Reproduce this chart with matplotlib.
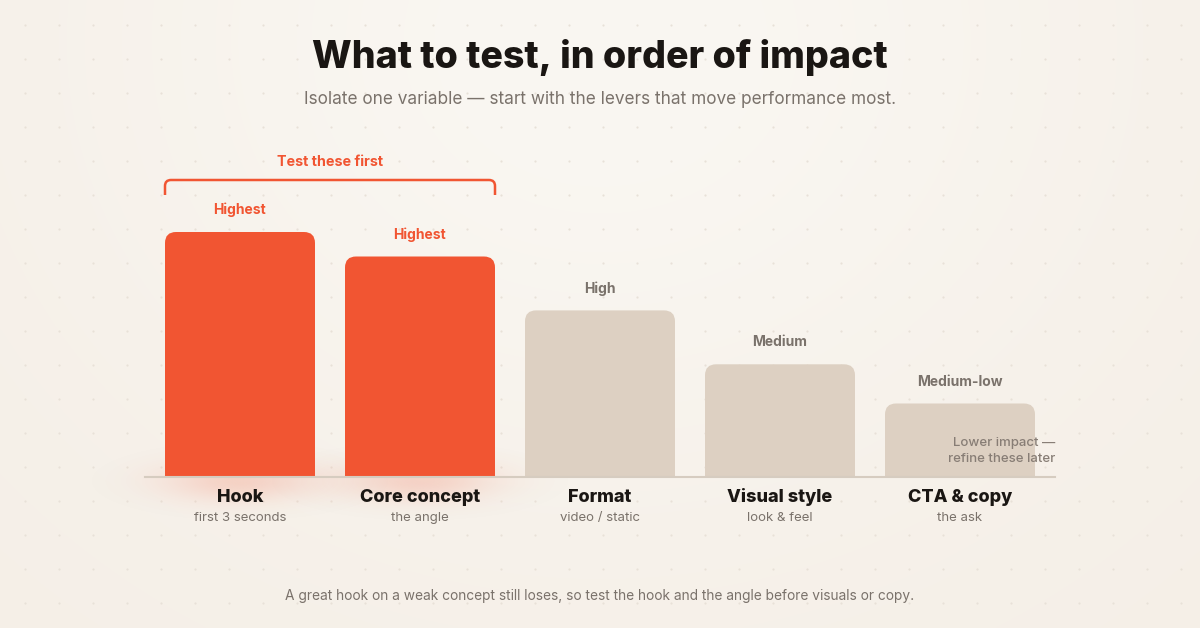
import numpy as np
import matplotlib.pyplot as plt
from matplotlib.patches import FancyBboxPatch, PathPatch
from matplotlib.path import Path

# Данные
categories = ['Hook', 'Core concept', 'Format', 'Visual style', 'CTA & copy']
subtitles = ['first 3 seconds', 'the angle', 'video / static', 'look & feel', 'the ask']
impact = [100, 90, 68, 46, 30]
levels = ['Highest', 'Highest', 'High', 'Medium', 'Medium-low']
priority = [True, True, False, False, False]

W, H = 1200, 628
ORANGE = '#F15532'
BEIGE = '#DDD0C2'
DARK = '#1A1613'
GRAY = '#7A726B'
FONT = ['Inter', 'DejaVu Sans']
plt.rcParams['font.family'] = FONT

fig = plt.figure(figsize=(12, 6.28), dpi=100)

# Фон: мягкий радиальный градиент + точечная сетка
bg = fig.add_axes([0, 0, 1, 1], zorder=-5)
yy, xx = np.mgrid[0:H:2, 0:W:2]
d = np.sqrt(((xx - 600) / 800) ** 2 + ((yy - 40) / 700) ** 2)
d = 1 - np.exp(-2.2 * d ** 2)
c0 = np.array([250, 247, 242]) / 255
c1 = np.array([245, 239, 231]) / 255
img = c0[None, None, :] * (1 - d[..., None]) + c1[None, None, :] * d[..., None]
bg.imshow(img, extent=[0, W, H, 0], aspect='auto', interpolation='bilinear')
gx, gy = np.meshgrid(np.arange(25, W, 34), np.arange(25, H, 34))
bg.scatter(gx.ravel(), gy.ravel(), s=2.5, color='#E8E1D8', linewidths=0)
bg.set_xlim(0, W)
bg.set_ylim(H, 0)
bg.axis('off')


def fx(x):
    return x / W


def fy(y):
    return 1 - y / H


# Заголовки
fig.text(fx(600), fy(57), 'What to test, in order of impact', ha='center', va='center',
         fontsize=27, fontweight='heavy', color=DARK)
fig.text(fx(600), fy(99), 'Isolate one variable \u2014 start with the levers that move performance most.',
         ha='center', va='center', fontsize=12.4, color=GRAY)
fig.text(fx(600), fy(596), 'A great hook on a weak concept still loses, so test the hook and the angle before visuals or copy.',
         ha='center', va='center', fontsize=9.9, color=GRAY)

# Ось столбцов
base_px = 477
ax = fig.add_axes([fx(150), (H - base_px) / H, 900 / W, 245 / H])
ax.set_xlim(-0.5, 4.5)
ax.set_ylim(0, 100)
ax.axis('off')
ax.patch.set_alpha(0)

ux = 180.0          # px на единицу по x
uy = 245 / 100.0    # px на единицу по y
bar_w = 150 / ux
radius = 11

bars = ax.bar(range(len(categories)), impact, width=bar_w)
for i, rect in enumerate(bars):
    x0, w, h = rect.get_x(), rect.get_width(), rect.get_height()
    rect.remove()
    col = ORANGE if priority[i] else BEIGE
    if priority[i]:
        # мягкое свечение под оранжевыми столбцами
        xc = x0 + w / 2
        gxs = np.linspace(xc - 220 / ux, xc + 220 / ux, 300)
        gys = np.linspace(-90 / uy, 90 / uy, 300)
        GX, GY = np.meshgrid(gxs, gys)
        ex = (GX - xc) * ux / 75
        ey = (GY * uy + 4) / 20
        alpha = 0.20 * np.exp(-(ex ** 2 + ey ** 2))
        glow = np.zeros(GX.shape + (4,))
        glow[..., :3] = np.array([241, 85, 50]) / 255
        glow[..., 3] = alpha
        ax.imshow(glow, extent=[gxs[0], gxs[-1], gys[0], gys[-1]], origin='lower',
                  aspect='auto', zorder=1, clip_on=False, interpolation='bilinear')
    patch = FancyBboxPatch((x0, -20), w, h + 20,
                           boxstyle=f'round,pad=0,rounding_size={radius / ux}',
                           mutation_aspect=ux / uy, fc=col, ec='none', zorder=2)
    ax.add_patch(patch)
    patch.set_clip_path(ax.patch)
    ax.annotate(levels[i], (i, h), xytext=(0, 22 * 0.72), textcoords='offset points',
                ha='center', va='center', fontsize=10, fontweight='bold',
                color=ORANGE if priority[i] else GRAY, annotation_clip=False)
    ax.annotate(categories[i], (i, 0), xytext=(0, -20 * 0.72), textcoords='offset points',
                ha='center', va='center', fontsize=13, fontweight='heavy', color=DARK,
                annotation_clip=False)
    ax.annotate(subtitles[i], (i, 0), xytext=(0, -41 * 0.72), textcoords='offset points',
                ha='center', va='center', fontsize=9.5, color=GRAY, annotation_clip=False)

# базовая линия
ax.plot([-0.5 - 5 / ux, 4.5 + 5 / ux], [0, 0], color='#D6CCC0', lw=1.5, clip_on=False, zorder=3)

# скобка "Test these first"
bx0 = 0 - bar_w / 2
bx1 = 1 + bar_w / 2
btop = (base_px - 180) / uy
blow = (base_px - 195) / uy
rx, ry = 6 / ux, 6 / uy
verts = [(bx0, blow), (bx0, btop - ry), (bx0, btop), (bx0 + rx, btop),
         (bx1 - rx, btop), (bx1, btop), (bx1, btop - ry), (bx1, blow)]
codes = [Path.MOVETO, Path.LINETO, Path.CURVE3, Path.CURVE3,
         Path.LINETO, Path.CURVE3, Path.CURVE3, Path.LINETO]
ax.add_patch(PathPatch(Path(verts, codes), fc='none', ec=ORANGE, lw=1.8, clip_on=False, zorder=3))
ax.text(0.5, (base_px - 162) / uy, 'Test these first', ha='center', va='center',
        fontsize=10.3, fontweight='bold', color=ORANGE, clip_on=False)

ax.text(4.5 + 5 / ux, (base_px - 451) / uy, 'Lower impact \u2014\nrefine these later',
        ha='right', va='center', fontsize=9.5, fontweight='medium', color='#877D75',
        linespacing=1.35, zorder=4)

fig.savefig('out.png', dpi=100)
